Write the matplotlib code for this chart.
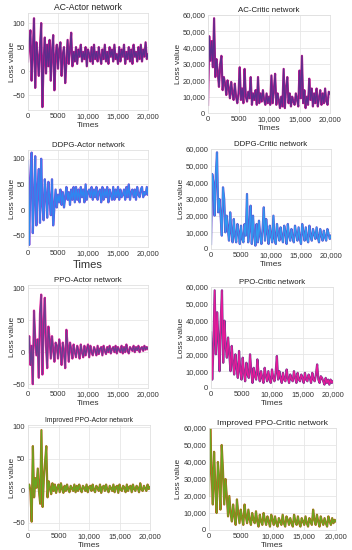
import numpy as np
import matplotlib
matplotlib.use("Agg")
import matplotlib.pyplot as plt
from matplotlib.ticker import FuncFormatter

plt.rcParams['font.family'] = ['Liberation Sans', 'DejaVu Sans']

ac_actor = [20, 60, 85, -20, 40, 110, -35, 60, 30, -10, 50, 100, -75, 20, 70, -5,
            55, 10, 65, -20, 40, 75, -40, 30, 55, 5, 45, 60, -10, 35, 50, -25, 20, 65,
            15, 45, 80, 10, 40, 20,
            50, 15, 45, 30, 55, 20, 40, 25, 50, 10, 45, 35, 20, 50, 15, 55, 25, 40, 20,
            50, 30, 15, 45, 25, 55, 20, 40, 15, 50, 30, 45, 20, 55, 25, 35, 15, 50, 20,
            45, 30, 55, 15, 40, 25, 50, 20, 45, 15, 55, 30, 40, 20, 50, 25, 55, 20, 45,
            30, 60, 25, 35]
ac_critic = [5000, 47000, 32000, 44000, 28000, 58000, 22000, 33000, 25000, 16000,
             30000, 35000, 14000, 22000, 18000, 11000,
             20000, 15000, 9000, 19000, 12000, 8000, 18000, 10000, 6000, 12000, 28000,
             8000, 15000, 6000, 27000, 10000, 7000, 13000, 9000, 22000, 5000, 12000,
             8000, 14000,
             5000, 22000, 6000, 12000, 7000, 14000, 8000, 5000, 12000, 6000, 10000,
             5000, 23000, 6000, 14000, 24000, 5000, 12000, 8000, 3000, 10000, 4000,
             27000, 3000, 15000, 22000, 6000, 12000, 4000, 10000, 7000, 5000, 12000,
             8000, 4000, 26000, 9000, 35000, 6000, 14000, 3000, 10000, 5000, 21000,
             8000, 15000, 4000, 12000, 6000, 15000, 4000, 9000, 14000, 5000, 12000,
             6000, 15000, 7000, 5000, 13000, 12000]
ddpg_actor = [95, -68, 60, 112, -45, 20, 105, -30, 40, 80, -25, 100, 10, -20, 60, 30,
              -15, 55, 20, -10, 60, -30, 5, 40, 5, 30, 15, 40, 10, 35, 5, 25, 45, 20, 35,
              10, 40, 20, 45, 15,
              45, 20, 40, 15, 45, 25, 40, 15, 50, 20, 35, 40, 25, 45, 20, 40, 25, 45, 20,
              35, 40, 15, 45, 20, 40, 25, 45, 15, 40, 30, 20, 45, 20, 40, 25, 45, 20, 40,
              25, 30, 40, 20, 45, 25, 50, 20, 35, 40, 25, 40, 20, 45, 30, 25, 40, 45, 25,
              35, 30, 45, 30]
ddpg_critic = [3000, 45000, 40000, 20000, 44000, 58000, 22000, 30000, 20000, 8000,
               37000, 30000, 10000, 20000, 12000, 5000,
               22000, 10000, 4000, 18000, 8000, 4000, 15000, 10000, 3000, 14000, 6000,
               4000, 15000, 8000, 33000, 4000, 12000, 26000, 3000, 20000, 8000, 2000,
               15000, 4000,
               17000, 8000, 3000, 12000, 25000, 5000, 18000, 10000, 3000, 14000, 8000,
               4000, 20000, 6000, 3000, 15000, 9000, 5000, 13000, 7000, 4000, 14000,
               10000, 3000, 15000, 8000, 5000, 12000, 7000, 4000, 14000, 9000, 5000,
               13000, 6000, 3000, 15000, 10000, 5000, 13000, 6000, 4000, 14000, 8000,
               5000, 12000, 9000, 6000, 13000, 7000, 4000, 12000, 8000, 5000, 11000,
               7000, 5000, 12000, 9000, 6000, 8000]
ppo_actor = [0, 25, -20, 10, -50, 65, 20, -5, 20, -40, 60, 90, -35, 40, 85, 10,
             -25, 40, 20, -10, 25, 5, -15, 15, 10, -10, 20, 5, -20, 15, 0, -25, 35, 10,
             -15, 15, 5, -10, 12, 0,
             -8, 10, 2, -10, 12, 0, -8, 10, -5, 5, 12, -8, 10, 0, -5, 8, 3, -5, 10, -3,
             5, 8, -5, 10, 2, -3, 8, 0, 10, -2, 5, 8, 0, 10, -2, 8, 3, 0, 10, -2, 8, 0,
             12, 2, -2, 8, 5, 2, 10, 0, 8, 3, 10, 0, 6, 8, 2, 10, 4, 8, 5]
ppo_critic = [33000, 5000, 25000, 58000, 20000, 45000, 30000, 10000, 40000, 58000,
              15000, 40000, 25000, 18000, 30000, 20000,
              10000, 25000, 15000, 8000, 20000, 12000, 6000, 22000, 10000, 5000, 18000,
              9000, 4000, 15000, 8000, 6000, 20000, 10000, 3000, 12000, 7000, 5000,
              17000, 8000,
              4000, 10000, 6000, 3000, 12000, 7000, 4000, 10000, 5000, 3000, 11000, 6000,
              4000, 9000, 19000, 5000, 10000, 6000, 3000, 9000, 5000, 4000, 11000, 6000,
              3000, 8000, 5000, 4000, 10000, 6000, 3000, 9000, 5000, 4000, 8000, 6000,
              3000, 9000, 5000, 4000, 8000, 6000, 3000, 9000, 5000, 4000, 8000, 14000,
              5000, 3000, 7000, 6000, 4000, 2000, 6000, 3000, 5000, 2000, 5000, 3000,
              4000]
imp_actor = [5, 10, 0, -48, 70, -10, 20, 5, 35, 0, -20, 95, -25, 20, 45, 70,
             -10, 15, 5, -5, 12, 0, 10, -3, 5, 10, -2, 12, 3, -3, 8, 0, 10, 2, -2, 8, 4,
             0, 10, -2,
             8, 0, 10, 3, -2, 8, 5, 0, 10, -2, 6, 8, 0, 10, 2, -2, 8, 5, 0, 10, -3, 6, 8,
             0, 10, 2, -2, 8, 4, 0, 10, -2, 6, 8, -3, 10, 2, 0, 8, 5, -2, 10, 0, 6, 8,
             -2, 10, 3, 0, 8, 5, -2, 12, 2, 0, 8, 4, 0, 10, 3, 6]
imp_critic = [20000, 60000, 35000, 15000, 46000, 25000, 10000, 40000, 30000, 12000,
              50000, 35000, 15000, 30000, 20000, 8000,
              20000, 10000, 5000, 15000, 8000, 3000, 18000, 10000, 4000, 12000, 7000,
              3000, 15000, 8000, 4000, 12000, 6000, 3000, 10000, 6000, 4000, 11000,
              5000, 2000,
              9000, 5000, 3000, 10000, 6000, 3000, 8000, 5000, 2000, 9000, 6000, 3000,
              8000, 4000, 2000, 7000, 5000, 3000, 9000, 4000, 2000, 8000, 6000, 3000,
              7000, 4000, 2000, 9000, 5000, 3000, 8000, 4000, 2000, 7000, 5000, 3000,
              8000, 4000, 2000, 7000, 5000, 3000, 12000, 6000, 3000, 9000, 5000, 2000,
              8000, 5000, 3000, 7000, 4000, 2000, 8000, 5000, 3000, 7000, 4000, 6000,
              5000]

W, H = 352, 550
fig = plt.figure(figsize=(W / 100, H / 100), dpi=100)

def px_axes(x0, y0, x1, y1):
    return fig.add_axes([x0 / W, 1 - y1 / H, (x1 - x0) / W, (y1 - y0) / H])

def comma(v, pos):
    if v == 5000:
        return "5000"
    return f"{int(v):,}"

# title, data, box (px), ylim, critic?, (under, over) colours, title size, xlabel size
panels = [
    ("AC-Actor network", ac_actor, (28, 13, 148, 110), (-81, 121), False, ('#c2188f', '#5c2d8c'), 6.2, 6),
    ("AC-Critic network", ac_critic, (208, 15, 330, 113), (0, 60000), True, ('#c2188f', '#5c2d8c'), 5.7, 6),
    ("DDPG-Actor network", ddpg_actor, (28, 150, 148, 247), (-72, 117), False, ('#7a4fd8', '#2f86f0'), 5.6, 8),
    ("DDPG-Critic network", ddpg_critic, (211, 149, 331, 249), (0, 60000), True, ('#6a4fd0', '#2f9af0'), 5.7, 6),
    ("PPO-Actor network", ppo_actor, (28, 285, 148, 388), (-56, 105), False, ('#e8199a', '#6b3d8f'), 5.7, 6),
    ("PPO-Critic network", ppo_critic, (211, 287, 333, 388), (0, 60000), True, ('#6b3d8f', '#e8199a'), 5.6, 6),
    ("Improved PPO-Actor network", imp_actor, (28, 425, 150, 530), (-61, 103), False, ('#b5651d', '#6aa520'), 4.9, 6),
    ("Improved PPO-Critic network", imp_critic, (209, 428, 336, 530), (0, 60000), True, ('#b5651d', '#6aa520'), 6.1, 6),
]

for title, vals, box, ylim, critic, colors, t_size, xl_size in panels:
    ax = px_axes(*box)
    times = np.linspace(0, 20000, len(vals))
    ax.plot(times, vals, color=colors[0], lw=1.6)
    ax.plot(times, vals, color=colors[1], lw=0.9)
    ax.set_xlim(0, 20000)
    ax.set_ylim(*ylim)
    ax.set_xticks([0, 5000, 10000, 15000, 20000])
    ax.xaxis.set_major_formatter(FuncFormatter(comma))
    if critic:
        ax.set_yticks(range(0, 60001, 10000))
        ax.yaxis.set_major_formatter(FuncFormatter(comma))
    else:
        ax.set_yticks([-50, 0, 50, 100])
    ax.grid(color='#e6e6e6', lw=0.6)
    ax.set_axisbelow(True)
    for s in ax.spines.values():
        s.set_color('#e0e0e0')
        s.set_linewidth(0.6)
    ax.tick_params(length=0, labelsize=5.4, pad=2, colors='#333333')
    ax.set_title(title, fontsize=t_size, pad=2, color='#222222')
    ax.set_xlabel("Times", fontsize=xl_size, labelpad=1.5 if xl_size < 7 else 2.5, color='#333333')
    ax.set_ylabel("Loss value", fontsize=6, color='#333333')
    ax.yaxis.set_label_coords(-0.215 if critic else -0.10, 0.5)

fig.savefig("out.png", dpi=100)
